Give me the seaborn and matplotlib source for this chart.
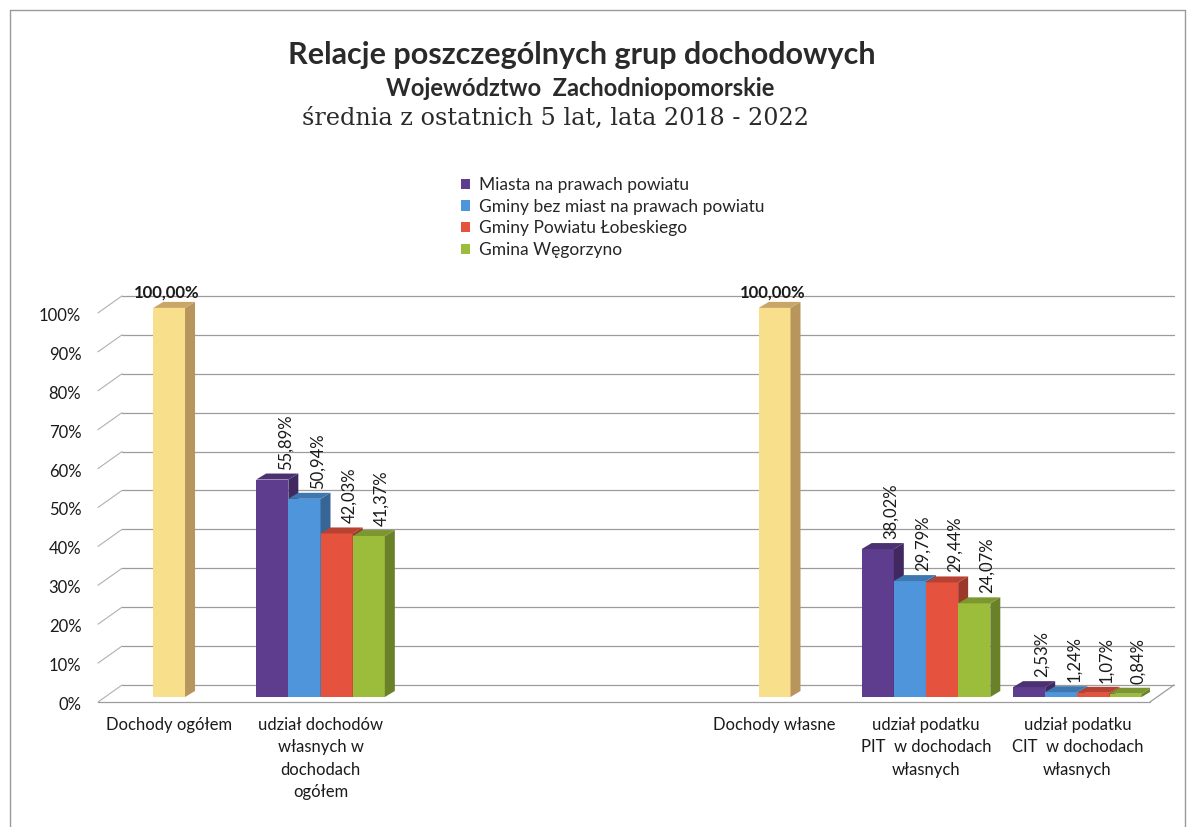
import numpy as np
import pandas as pd
import matplotlib
matplotlib.use("Agg")
import matplotlib.pyplot as plt
import matplotlib.colors as mcolors
from matplotlib.patches import Polygon, Patch
from matplotlib.lines import Line2D
from matplotlib.transforms import ScaledTranslation
import seaborn as sns

# --- data ---
categories = [
    "Dochody ogółem",
    "udział dochodów\nwłasnych w\ndochodach\nogółem",
    " ",
    "  ",
    "Dochody własne",
    "udział podatku\nPIT  w dochodach\nwłasnych",
    "udział podatku\nCIT  w dochodach\nwłasnych",
]
total_cats = ["Dochody ogółem", "Dochody własne"]
total_vals = [100.00, 100.00]

series = [
    "Miasta na prawach powiatu",
    "Gminy bez miast na prawach powiatu",
    "Gminy Powiatu Łobeskiego",
    "Gmina Węgorzyno",
]
group_cats = [categories[1], categories[5], categories[6]]
share_own = [55.89, 50.94, 42.03, 41.37]
share_pit = [38.02, 29.79, 29.44, 24.07]
share_cit = [2.53, 1.24, 1.07, 0.84]

colors = ["#5E3C8E", "#4F95DC", "#E5533E", "#9CBD3C"]
yellow = "#F8DF8C"

# long tables
df_total = pd.DataFrame({"kategoria": total_cats, "wartosc": total_vals})
rows = []
for cat, vals in zip(group_cats, [share_own, share_pit, share_cit]):
    for s, v in zip(series, vals):
        rows.append((cat, s, v))
df_grp = pd.DataFrame(rows, columns=["kategoria", "seria", "wartosc"])

# --- figure setup ---
sns.set_theme(style="white")
plt.rcParams["font.family"] = ["Lato", "DejaVu Sans"]

fig = plt.figure(figsize=(11.91, 8.27), dpi=100)
W, H = 1191, 827
ax = fig.add_axes([98 / W, 124 / H, 1052 / W, 413 / H])

sns.barplot(data=df_total, x="kategoria", y="wartosc", order=categories,
            color=yellow, saturation=1, width=0.21, errorbar=None, ax=ax)
sns.barplot(data=df_grp, x="kategoria", y="wartosc", hue="seria", order=categories,
            hue_order=series, palette=colors, saturation=1, width=0.85,
            errorbar=None, legend=False, ax=ax)

ax.set_xlim(-0.47, 6.48)
ax.set_ylim(-1.54, 104.6)
for sp in ax.spines.values():
    sp.set_visible(False)
ax.set_xlabel("")
ax.set_ylabel("")
ax.grid(False)

# pixel -> data unit conversion
p0 = ax.transData.transform((0, 0))
p1 = ax.transData.transform((1, 1))
ux, uy = p1[0] - p0[0], p1[1] - p0[1]
def px(dx, dy):
    return dx / ux, dy / uy

# back wall, floor and side wall lines
gx0, gx1 = ax.get_xlim()
bdx, bdy = px(24, 12)
fdx, fdy = px(0, -5)
grid_col = "#9C9C9C"
for v in range(0, 101, 10):
    ax.add_line(Line2D([gx0 + bdx, gx1 + bdx], [v + bdy, v + bdy], color=grid_col,
                       lw=0.9, zorder=0.5, clip_on=False))
    ax.add_line(Line2D([gx0, gx0 + bdx], [v + fdy, v + bdy], color="#B0B0B0",
                       lw=0.8, zorder=0.5, clip_on=False))
ax.add_line(Line2D([gx0, gx1], [fdy, fdy], color=grid_col, lw=0.9, zorder=0.5, clip_on=False))
ax.add_line(Line2D([gx1, gx1 + bdx], [fdy, bdy], color=grid_col, lw=0.9, zorder=0.5, clip_on=False))

# 3D faces for every bar
def shade(c, f):
    r, g, b = mcolors.to_rgb(c)
    return (r * f, g * f, b * f)

ddx, ddy = px(10, 6)
bars = sorted([p for p in ax.patches if p.get_height() > 0], key=lambda p: p.get_x())
for i, p in enumerate(bars):
    x0 = p.get_x()
    x1 = x0 + p.get_width()
    h = p.get_height()
    fc = p.get_facecolor()
    is_yellow = mcolors.to_hex(fc) == mcolors.to_hex(yellow)
    z = 2 + i * 0.1
    p.set_zorder(z)
    p.set_edgecolor("none")
    side = Polygon([(x1, 0), (x1 + ddx, ddy), (x1 + ddx, h + ddy), (x1, h)], closed=True,
                   facecolor="#B8955C" if is_yellow else shade(fc, 0.68),
                   edgecolor="none", zorder=z + 0.01)
    top = Polygon([(x0, h), (x0 + ddx, h + ddy), (x1 + ddx, h + ddy), (x1, h)], closed=True,
                  facecolor="#C9A566" if is_yellow else shade(fc, 0.8),
                  edgecolor="none", zorder=z + 0.01)
    ax.add_patch(side)
    ax.add_patch(top)
    cx = x0 + p.get_width() / 2
    if is_yellow:
        ax.text(cx - px(2, 0)[0], h + ddy + px(0, 1)[1], f"{h:.2f}%".replace(".", ","),
                ha="center", va="bottom", fontsize=12, fontweight="bold",
                color="#1a1a1a", zorder=10)
    else:
        ax.text(cx + px(13, 0)[0], h + ddy + px(0, 4)[1], f"{h:.2f}%".replace(".", ","),
                ha="center", va="bottom", rotation=90, fontsize=12,
                color="#1a1a1a", zorder=10)

# axis ticks
ax.set_yticks(range(0, 101, 10))
ax.set_yticklabels([f"{v}%" for v in range(0, 101, 10)])
ax.tick_params(axis="y", length=0, pad=12, labelsize=12, labelcolor="#1a1a1a")
ax.tick_params(axis="x", length=0, pad=10, labelsize=12, labelcolor="#1a1a1a")
for lab in ax.get_yticklabels():
    lab.set_transform(lab.get_transform() + ScaledTranslation(0, -0.065, fig.dpi_scale_trans))
for lab in ax.get_xticklabels():
    lab.set_linespacing(1.5)

# legend
handles = [Patch(facecolor=c, edgecolor="none") for c in colors]
fig.legend(handles, series, loc="upper left", bbox_to_anchor=(454 / W, 1 - 170 / H),
           frameon=False, fontsize=12.5, handlelength=0.55, handleheight=0.55,
           handletextpad=0.5, labelspacing=0.33, borderaxespad=0)

# titles
fig.text(582 / W, 1 - 55 / H, "Relacje poszczególnych grup dochodowych",
         ha="center", va="center", fontsize=22, fontweight="bold", color="#2a2a2a")
fig.text(580 / W, 1 - 88 / H, "Województwo  Zachodniopomorskie",
         ha="center", va="center", fontsize=17, fontweight="bold", color="#2a2a2a")
fig.text(555 / W, 1 - 118 / H, "średnia z ostatnich 5 lat, lata 2018 - 2022",
         ha="center", va="center", fontsize=17.2, color="#2a2a2a",
         family=["DejaVu Serif"])

# outer frame
for xs, ys in [([10, 1185], [10, 10]), ([10, 10], [10, 827]), ([1185, 1185], [10, 827])]:
    fig.add_artist(Line2D([x / W for x in xs], [1 - y / H for y in ys],
                          color="#9a9a9a", lw=1, transform=fig.transFigure))

fig.savefig("out.png", dpi=100)
